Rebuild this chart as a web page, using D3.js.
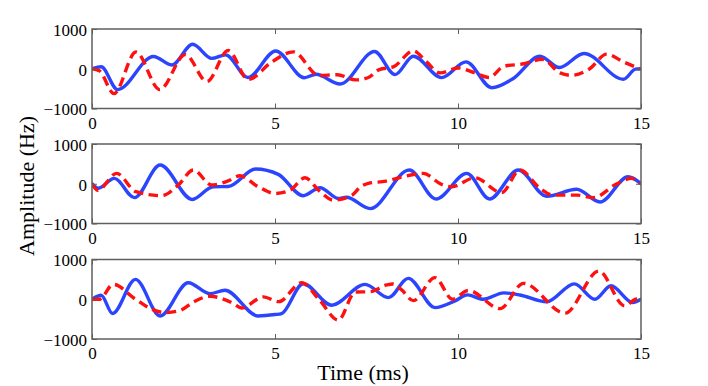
<!DOCTYPE html>
<html>
<head>
<meta charset="utf-8">
<script src="https://cdn.jsdelivr.net/npm/d3@7"></script>
<style>
  html, body { margin: 0; padding: 0; background: #fff; }
  svg { display: block; }
  svg text { font-family: "Liberation Serif", "Times New Roman", serif !important; fill: #000; }
</style>
</head>
<body>
<svg id="chart" width="708" height="386"></svg>
<script>
// ---- data (time in ms, amplitude in Hz) ----
const xTicks = [0, 5, 10, 15];
const yTicks = [-1000, 0, 1000];
const xDomain = [0, 15];
const yDomain = [-1000, 1000];
const xLabel = "Time (ms)";
const yLabel = "Amplitude (Hz)";

const p1BlueT = [0, 0.25, 0.7, 1.68, 2.18, 2.75, 3.27, 3.65, 4.26, 5.02, 5.8, 6.12, 6.78, 7.72, 8.28, 8.78, 9.55, 10.22, 10.92, 11.5, 12.24, 12.77, 13.44, 14.52, 14.85, 15];
const p1BlueV = [0, 50, -525, 310, 95, 615, 260, 350, -220, 445, -225, -140, -385, 435, -147, 316, -223, 172, -477, -250, 316, 30, 385, -265, -10, 0];
const p1RedT = [0, 0.2, 0.6, 1.2, 1.85, 2.55, 3.14, 3.72, 4.27, 4.91, 5.5, 6.2, 6.7, 7.2, 7.55, 7.85, 8.23, 8.78, 9.14, 9.51, 10.0, 10.45, 10.85, 11.25, 11.8, 12.3, 12.79, 13.1, 13.6, 14.06, 14.52, 15];
const p1RedV = [0, -50, -625, 420, -525, 355, -320, 460, -270, 170, 425, -170, -150, -280, -220, -20, 45, 450, 172, -105, 20, -100, -220, 60, 125, 240, -105, -165, 0, 367, 172, -10];

const p2BlueT = [0, 0.17, 0.61, 1.16, 1.86, 2.74, 3.31, 3.72, 4.47, 5.09, 5.77, 6.23, 6.73, 6.95, 7.6, 8.67, 9.4, 10.24, 10.86, 11.65, 12.42, 13.24, 13.88, 14.65, 15];
const p2BlueV = [0, -115, 135, -350, 470, -395, -75, -70, 370, 235, -300, -100, -370, -340, -625, 345, -385, 260, -385, 345, -315, -140, -460, 175, 0];
const p2RedT = [0, 0.16, 0.67, 1.2, 1.9, 2.36, 2.77, 3.27, 3.7, 4.04, 4.54, 5.0, 5.4, 5.82, 6.2, 6.59, 7.1, 7.32, 7.55, 8.03, 8.43, 9.05, 9.55, 9.83, 10.46, 11.19, 11.69, 12.24, 12.6, 13.24, 13.7, 14.34, 14.75, 15];
const p2RedV = [0, -165, 260, -200, -300, -30, 345, -30, 65, 200, -75, -245, -170, 150, -170, -410, -290, -90, 10, 65, 160, 260, -15, -75, 150, -225, 345, -115, -285, -285, -350, 0, 135, 0];

const p3BlueT = [0, 0.25, 0.56, 1.19, 1.86, 2.63, 3.22, 3.63, 4.54, 5.0, 5.18, 5.77, 6.55, 7.46, 8.1, 8.64, 9.37, 9.92, 10.26, 10.69, 11.25, 11.69, 12.42, 13.18, 13.74, 14.18, 14.77, 15];
const p3BlueV = [0, 100, -360, 500, -420, 415, 140, 225, -420, -385, -360, 390, -150, 375, 40, 525, -210, -40, 110, 0, 160, 108, -65, 388, 0, 340, -80, 0];
const p3RedT = [0, 0.2, 0.58, 1.16, 1.63, 1.99, 2.38, 2.81, 3.22, 3.87, 4.09, 4.68, 5.1, 5.73, 6.2, 6.73, 7.19, 7.6, 8.05, 8.22, 8.46, 8.78, 9.37, 9.85, 10.28, 11.15, 11.79, 12.92, 13.85, 14.55, 14.85, 15];
const p3RedV = [0, 0, 375, 20, -250, -335, -290, -50, 75, -110, -220, 60, -60, 415, 0, -525, 180, 190, 360, 385, 235, -35, 545, 0, 220, -235, 400, -350, 710, -165, 0, 20];

const panels = [
  { blueT: p1BlueT, blueV: p1BlueV, redT: p1RedT, redV: p1RedV },
  { blueT: p2BlueT, blueV: p2BlueV, redT: p2RedT, redV: p2RedV },
  { blueT: p3BlueT, blueV: p3BlueV, redT: p3RedT, redV: p3RedV }
];

// ---- layout ----
const svg = d3.select("#chart");
const left = 92, right = 641;
const panelTops = [29, 144, 259.5];
const panelH = 79.5;
const frameColor = "#5f5f5f";
const serif = "Liberation Serif, Times New Roman, serif";

const x = d3.scaleLinear().domain(xDomain).range([left, right]);

panels.forEach((p, i) => {
  const top = panelTops[i], bottom = top + panelH;
  const y = d3.scaleLinear().domain(yDomain).range([bottom, top]);
  const g = svg.append("g");

  const clipId = "clip" + i;
  g.append("clipPath").attr("id", clipId)
    .append("rect").attr("x", left).attr("y", top).attr("width", right - left).attr("height", panelH);

  const line = d3.line().x(d => x(d[0])).y(d => y(d[1])).curve(d3.curveMonotoneX);
  const blue = p.blueT.map((t, k) => [t, p.blueV[k]]);
  const red = p.redT.map((t, k) => [t, p.redV[k]]);

  const plot = g.append("g").attr("clip-path", `url(#${clipId})`);
  plot.append("path").datum(blue).attr("d", line)
    .attr("fill", "none").attr("stroke", "#2b45ff").attr("stroke-width", 3.4)
    .attr("stroke-linejoin", "round").attr("stroke-linecap", "round");
  plot.append("path").datum(red).attr("d", line)
    .attr("fill", "none").attr("stroke", "#ff1010").attr("stroke-width", 3.4)
    .attr("stroke-dasharray", "9.5,5.5");

  // axes
  const axB = g.append("g").attr("transform", `translate(0,${bottom})`)
    .call(d3.axisBottom(x).tickValues(xTicks).tickSize(-5).tickPadding(8).tickFormat(d3.format("d")));
  const axT = g.append("g").attr("transform", `translate(0,${top})`)
    .call(d3.axisTop(x).tickValues(xTicks).tickSize(-5).tickFormat(""));
  const axL = g.append("g").attr("transform", `translate(${left},0)`)
    .call(d3.axisLeft(y).tickValues(yTicks).tickSize(-5).tickPadding(5)
      .tickFormat(d => d < 0 ? "\u2212" + Math.abs(d) : String(d)));
  const axR = g.append("g").attr("transform", `translate(${right},0)`)
    .call(d3.axisRight(y).tickValues(yTicks).tickSize(-5).tickFormat(""));

  [axB, axT, axL, axR].forEach(a => {
    a.attr("font-family", serif).attr("font-size", 17);
    a.select(".domain").remove();
    a.selectAll(".tick line").attr("stroke", frameColor).attr("stroke-width", 1);
    a.selectAll("text").attr("font-family", serif).attr("font-size", 17).attr("fill", "#000");
  });
  axL.selectAll("text").attr("dy", "0.38em");

  g.append("rect").attr("x", left).attr("y", top).attr("width", right - left).attr("height", panelH)
    .attr("fill", "none").attr("stroke", frameColor).attr("stroke-width", 1.5);
});

// axis titles
svg.append("text").attr("x", 363).attr("y", 380).attr("text-anchor", "middle")
  .attr("font-family", serif).attr("font-size", 22).text(xLabel);
svg.append("text").attr("transform", "translate(34,186) rotate(-90)").attr("text-anchor", "middle")
  .attr("font-family", serif).attr("font-size", 22).text(yLabel);
</script>
</body>
</html>
